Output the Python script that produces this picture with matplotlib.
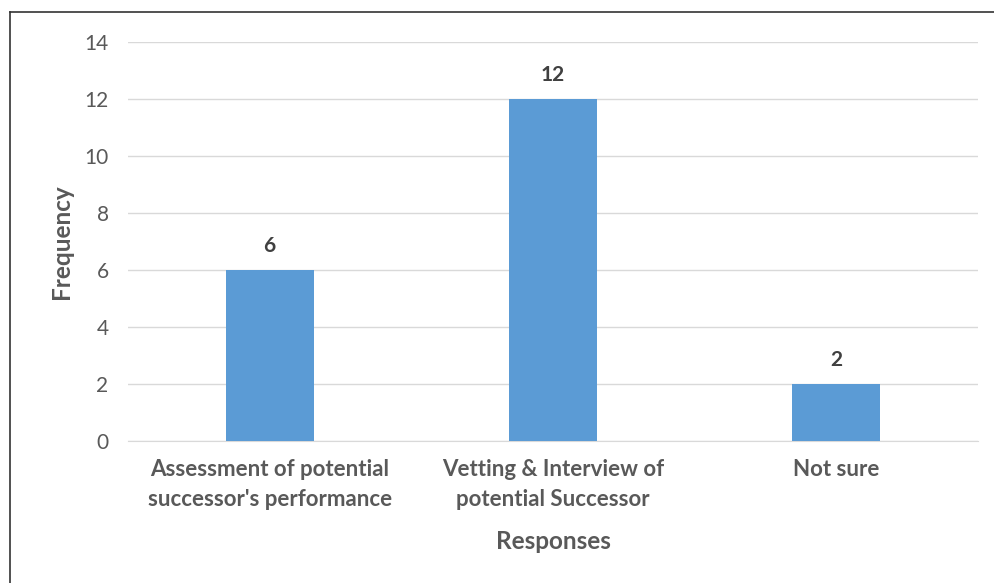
import matplotlib.pyplot as plt
from matplotlib.lines import Line2D

# Responses and their counts
categories = ["Assessment of potential\nsuccessor's performance",
              "Vetting & Interview of\npotential Successor",
              "Not sure"]
frequency = [6, 12, 2]
y_ticks = [0, 2, 4, 6, 8, 10, 12, 14]

TEXT = "#595959"
BAR = "#5B9BD5"
GRID = "#D9D9D9"

plt.rcParams['font.family'] = ['Lato', 'DejaVu Sans']

fig = plt.figure(figsize=(9.95, 5.83), dpi=100)
ax = fig.add_axes([128 / 995, 1 - 441 / 583, 850 / 995, 399 / 583])

x = range(len(categories))
bars = ax.bar(x, frequency, width=0.31, color=BAR, zorder=3)
for rect, val in zip(bars, frequency):
    ax.text(rect.get_x() + rect.get_width() / 2, val + 0.5, str(val),
            ha='center', va='bottom', fontsize=15, fontweight='bold', color="#404040")

ax.set_xlim(-0.5, 2.5)
ax.set_ylim(0, 14)
ax.set_yticks(y_ticks)
ax.set_yticklabels([str(t) for t in y_ticks], fontsize=15, color=TEXT)
ax.set_xticks(list(x))
ax.set_xticklabels(categories, fontsize=16, fontweight='bold', color=TEXT, linespacing=1.5)
ax.tick_params(axis='both', length=0)
ax.tick_params(axis='y', pad=14)
ax.tick_params(axis='x', pad=13)

ax.grid(axis='y', color=GRID, linewidth=1, zorder=0)
for side in ['top', 'right', 'left']:
    ax.spines[side].set_visible(False)
ax.spines['bottom'].set_color(GRID)

ax.set_ylabel("Frequency", fontsize=17.5, fontweight='bold', color=TEXT, labelpad=8)
ax.set_xlabel("Responses", fontsize=17.5, fontweight='bold', color=TEXT, labelpad=15)

# frame edge along the top and left of the figure
fig.add_artist(Line2D([9.5 / 995, 1], [1 - 11.5 / 583, 1 - 11.5 / 583],
                      transform=fig.transFigure, color="#333333", linewidth=1.2))
fig.add_artist(Line2D([9.5 / 995, 9.5 / 995], [0, 1 - 11.5 / 583],
                      transform=fig.transFigure, color="#333333", linewidth=1.2))

fig.savefig("out.png", dpi=100)
